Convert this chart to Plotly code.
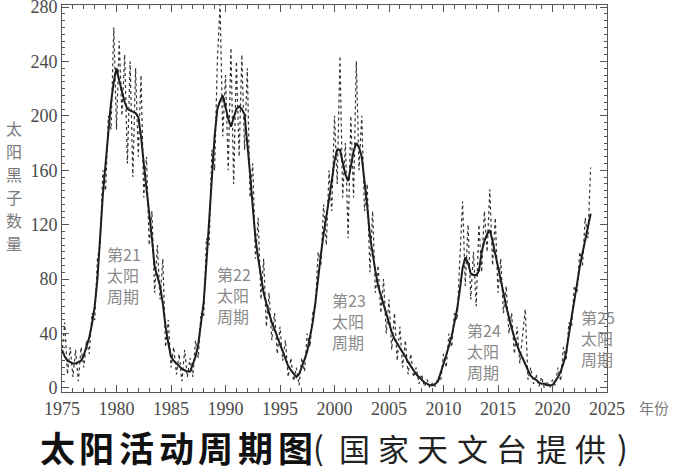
import plotly.graph_objects as go

# quarterly sample times
years = [1975 + 0.25 * i for i in range(195)]

# smoothed sunspot number (solid line)
smoothed = [
    28, 23, 20, 19, 18, 18, 19, 20, 24, 30, 37, 47,
    60, 80, 114, 142, 165, 189, 210, 225, 235, 226, 217, 210,
    205, 204, 203, 202, 199, 185, 165, 147, 130, 110, 89, 82,
    75, 62, 45, 33, 23, 20, 18, 16, 14, 13, 12, 12,
    17, 23, 32, 46, 63, 92, 122, 155, 185, 205, 211, 215,
    206, 198, 192, 198, 205, 207, 205, 201, 182, 158, 133, 110,
    95, 82, 70, 62, 55, 48, 43, 37, 32, 27, 21, 16,
    13, 10, 8, 10, 15, 21, 27, 38, 48, 63, 82, 98,
    113, 125, 138, 152, 167, 175, 175, 165, 157, 152, 164, 174,
    180, 177, 170, 153, 134, 112, 97, 86, 75, 68, 61, 54,
    47, 41, 36, 33, 30, 26, 23, 19, 16, 13, 10, 8,
    6, 4, 3, 2, 2, 3, 5, 11, 18, 24, 31, 38,
    48, 58, 72, 88, 96, 92, 84, 83, 83, 86, 100, 108,
    113, 116, 108, 99, 88, 80, 70, 60, 51, 44, 37, 31,
    26, 22, 17, 13, 9, 7, 6, 4, 3, 3, 2, 2,
    2, 5, 8, 12, 18, 26, 40, 52, 64, 77, 89, 99,
    109, 120, 128,
]

# monthly-type raw values (dotted line), sampled quarterly
monthly = [
    25, 48, 10, 30, 8, 28, 5, 30, 15, 35, 25, 55,
    50, 95, 105, 160, 145, 200, 190, 265, 190, 255, 200, 245,
    165, 240, 155, 235, 170, 230, 140, 170, 105, 130, 70, 105,
    65, 95, 30, 50, 15, 30, 10, 25, 5, 28, 8, 22,
    8, 35, 22, 55, 52, 110, 105, 175, 160, 240, 282, 185,
    230, 160, 250, 150, 240, 170, 245, 175, 235, 140, 165, 95,
    125, 65, 95, 45, 70, 35, 55, 25, 45, 20, 35, 8,
    22, 5, 15, 2, 22, 12, 40, 30, 55, 60, 100, 90,
    135, 105, 160, 130, 200, 150, 244, 140, 180, 110, 200, 140,
    240, 160, 200, 130, 150, 85, 130, 70, 90, 55, 80, 40,
    65, 28, 55, 20, 45, 15, 35, 10, 25, 8, 15, 3,
    10, 1, 6, 0, 4, 1, 8, 5, 25, 15, 40, 30,
    55, 50, 95, 137, 75, 120, 65, 100, 60, 120, 85, 130,
    100, 146, 90, 125, 70, 95, 55, 75, 40, 55, 25, 45,
    18, 40, 58, 6, 15, 3, 10, 1, 8, 0, 5, 0,
    6, 2, 15, 5, 30, 20, 48, 45, 75, 70, 100, 90,
    125, 110, 162,
]

y_ticks = [0, 40, 80, 120, 160, 200, 240, 280]
x_ticks = [1975, 1980, 1985, 1990, 1995, 2000, 2005, 2010, 2015, 2020, 2025]

cycle_labels = ["第21<br>太阳<br>周期", "第22<br>太阳<br>周期", "第23<br>太阳<br>周期",
                "第24<br>太阳<br>周期", "第25<br>太阳<br>周期"]
cycle_x = [1980.7, 1990.8, 2001.3, 2013.7, 2024.2]
cycle_y = [83, 68, 49, 27, 37]

y_title_chars = ["太", "阳", "黑", "子", "数", "量"]

title_main = "太阳活动周期图"
title_sub = "国家天文台提供"

fig = go.Figure()
fig.add_trace(go.Scatter(x=years, y=monthly, mode="lines",
                         line=dict(color="#333333", width=1.2, dash="dot"),
                         hoverinfo="skip", showlegend=False))
fig.add_trace(go.Scatter(x=years, y=smoothed, mode="lines",
                         line=dict(color="#1e1e1e", width=2),
                         showlegend=False))

W, H = 673, 471
L, R, T, B = 62, 66, 5, 79
pw = W - L - R
ph = H - T - B


def px(x):
    return (x - L) / pw


def py(y):
    return 1 - (y - T) / ph


fig.update_layout(
    width=W, height=H,
    margin=dict(l=L, r=R, t=T, b=B, pad=0, autoexpand=False),
    paper_bgcolor="white", plot_bgcolor="white",
    font=dict(family="Liberation Serif, serif", color="#444444"),
)
fig.update_xaxes(range=[1975, 2025], tickvals=x_ticks, ticks="inside", ticklen=7,
                 tickcolor="#555555", showline=True, linecolor="#555555", linewidth=1,
                 mirror="allticks", showgrid=False, zeroline=False, automargin=False,
                 ticklabeloverflow="allow",
                 tickfont=dict(size=18, family="Liberation Serif, serif", color="#4a4a4a"),
                 minor=dict(dtick=1, ticks="inside", ticklen=4, tickcolor="#555555", showgrid=False))
fig.update_yaxes(range=[-3, 281.5], tickvals=y_ticks, ticks="inside", ticklen=7,
                 tickcolor="#555555", showline=True, linecolor="#555555", linewidth=1,
                 mirror="allticks", showgrid=False, zeroline=False, automargin=False,
                 ticklabeloverflow="allow",
                 tickfont=dict(size=18, family="Liberation Serif, serif", color="#4a4a4a"),
                 minor=dict(dtick=5, ticks="inside", ticklen=3, tickcolor="#555555", showgrid=False))

cjk = "Noto Sans CJK SC"
for txt, cx, cy in zip(cycle_labels, cycle_x, cycle_y):
    fig.add_annotation(x=cx, y=cy, xref="x", yref="y", text=txt, showarrow=False,
                       xanchor="center", yanchor="middle",
                       font=dict(family=cjk, size=16, color="#8a8a8a"), align="left")

for i, ch in enumerate(y_title_chars):
    fig.add_annotation(x=px(14), y=py(128 + 23 * i), xref="paper", yref="paper",
                       xanchor="center", yanchor="middle",
                       text=ch, showarrow=False,
                       font=dict(family=cjk, size=16, color="#7a7a7a"))

fig.add_annotation(x=px(654), y=py(408), xref="paper", yref="paper",
                   xanchor="center", yanchor="middle",
                   text="年份", showarrow=False,
                   font=dict(family=cjk, size=15, color="#7a7a7a"))

# bottom caption, letter-spaced like the original
for i, ch in enumerate(title_main):
    fig.add_annotation(x=px(57 + 39.7 * i), y=py(446), xref="paper", yref="paper",
                       xanchor="center", yanchor="middle", text="<b>" + ch + "</b>",
                       showarrow=False, font=dict(family=cjk, size=35, color="#111111"))

fig.add_annotation(x=px(318), y=py(446), xref="paper", yref="paper",
                   xanchor="center", yanchor="middle", text="(", showarrow=False,
                   font=dict(family=cjk, size=32, color="#222222"))
for i, ch in enumerate(title_sub):
    fig.add_annotation(x=px(354 + 39.4 * i), y=py(447), xref="paper", yref="paper",
                       xanchor="center", yanchor="middle", text=ch, showarrow=False,
                       font=dict(family=cjk, size=31, color="#222222"))
fig.add_annotation(x=px(622), y=py(446), xref="paper", yref="paper",
                   xanchor="center", yanchor="middle", text=")", showarrow=False,
                   font=dict(family=cjk, size=32, color="#222222"))

fig.write_html("out.html", config={"displayModeBar": False},
               post_script="document.body.style.margin='0';")
